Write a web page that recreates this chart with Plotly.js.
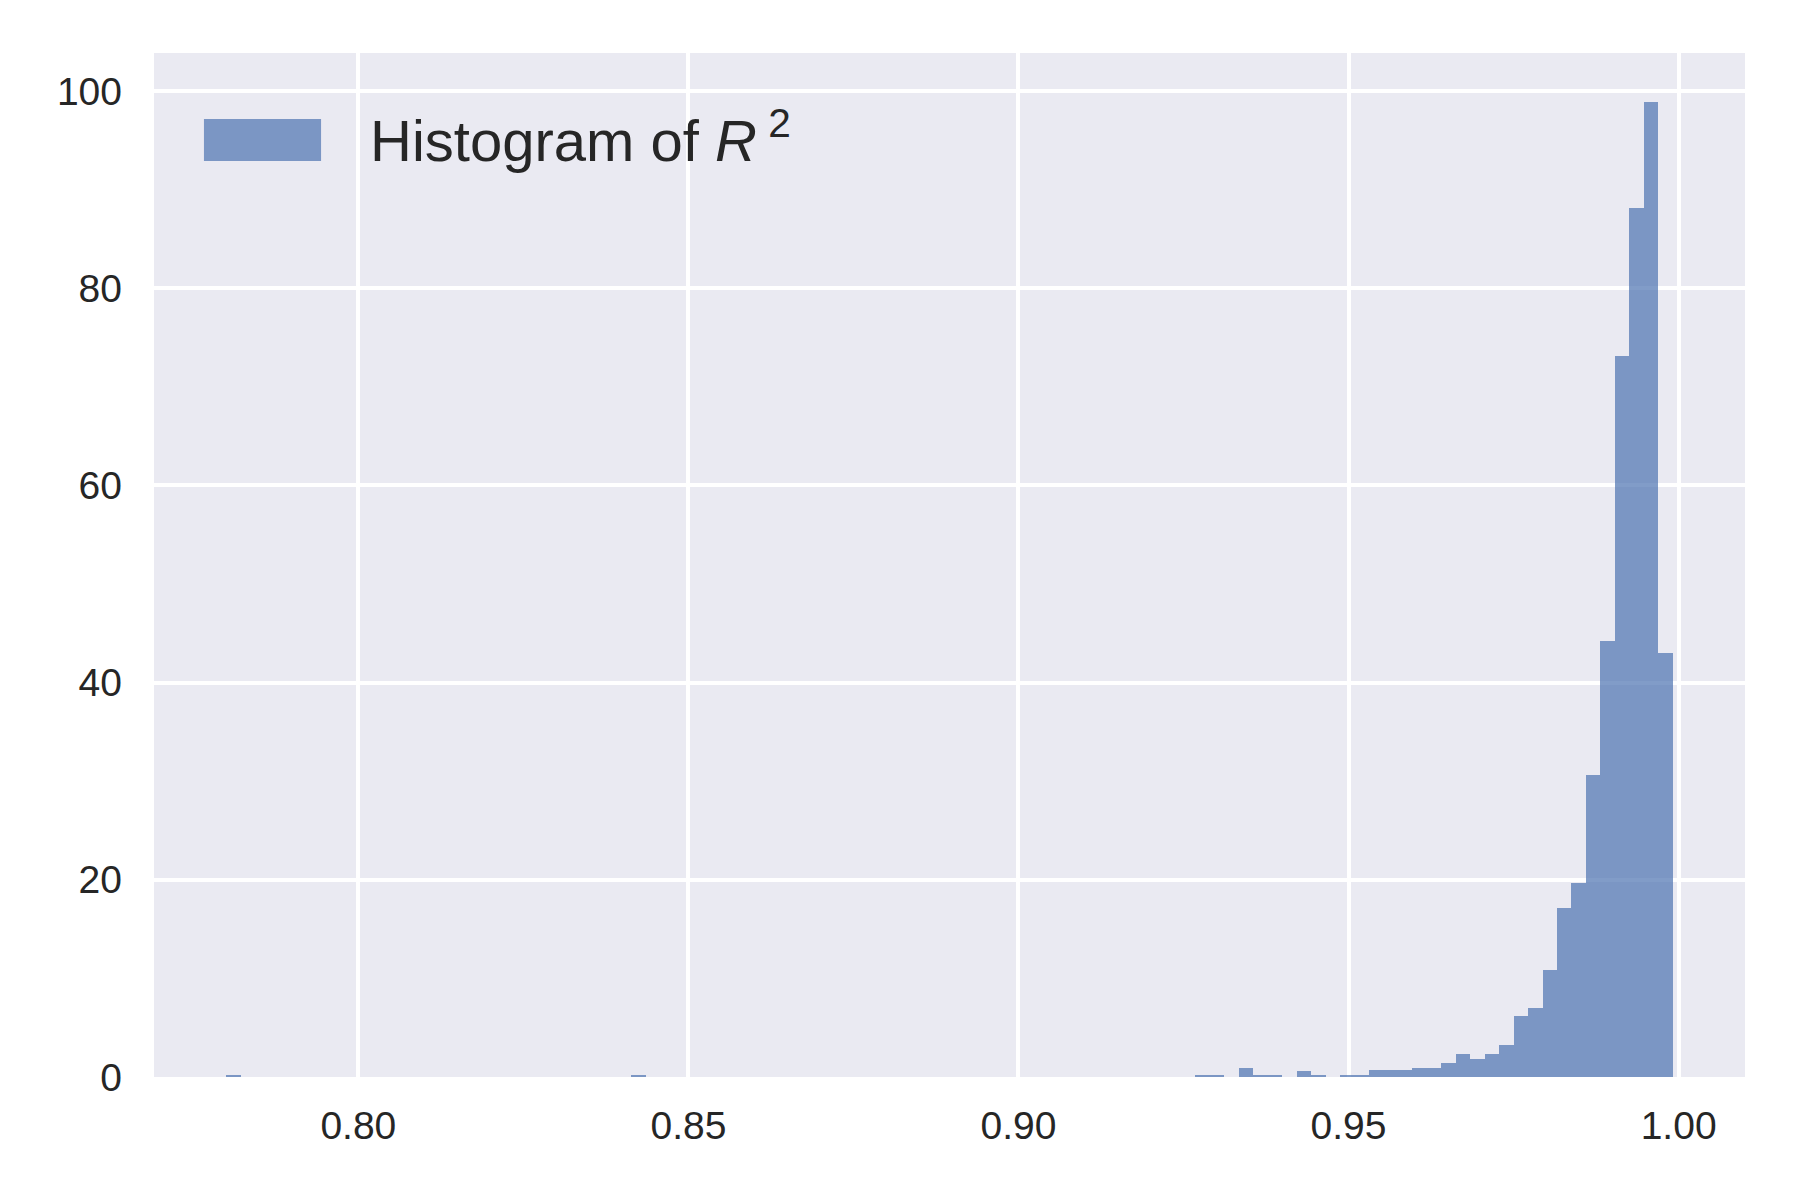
<!DOCTYPE html>
<html>
<head>
<meta charset="utf-8">
<script src="https://cdn.plot.ly/plotly-3.0.1.min.js"></script>
<style>
  html, body { margin: 0; padding: 0; background: #ffffff; }
  #chart { width: 1800px; height: 1200px; }
</style>
</head>
<body>
<div id="chart"></div>
<script>
// Histogram of R^2 (density), 100 equal-width bins
const binStart = 0.7800;
const binWidth = 0.002191;
const density = [
  0.25, 0, 0, 0, 0, 0, 0, 0, 0, 0,
  0, 0, 0, 0, 0, 0, 0, 0, 0, 0,
  0, 0, 0, 0, 0, 0, 0, 0, 0.25, 0,
  0, 0, 0, 0, 0, 0, 0, 0, 0, 0,
  0, 0, 0, 0, 0, 0, 0, 0, 0, 0,
  0, 0, 0, 0, 0, 0, 0, 0, 0, 0,
  0, 0, 0, 0, 0, 0, 0, 0.25, 0.25, 0,
  0.96, 0.25, 0.25, 0, 0.56, 0.25, 0, 0.25, 0.25, 0.76,
  0.76, 0.76, 0.96, 0.96, 1.47, 2.38, 1.87, 2.38, 3.29, 6.22,
  6.97, 10.81, 17.16, 19.69, 30.65, 44.25, 73.1, 88.1, 98.9, 42.97
];
const xTickVals = [0.80, 0.85, 0.90, 0.95, 1.00];
const xTickText = ['0.80', '0.85', '0.90', '0.95', '1.00'];
const yTickVals = [0, 20, 40, 60, 80, 100];
const legendLabel = 'Histogram of <i>R</i><sup>\u2009\u200A2</sup>';

const binCenters = density.map((_, i) => binStart + (i + 0.5) * binWidth);
const binEnd = binStart + density.length * binWidth;
const pad = 0.05 * (binEnd - binStart);
const yMax = Math.max(...density) * 1.05;

const barColor = 'rgba(76,114,176,0.7)';
const textColor = '#262626';
const fontFamily = 'Arial, "Liberation Sans", Helvetica, sans-serif';

const trace = {
  type: 'bar',
  x: binCenters,
  y: density,
  width: density.map(() => binWidth),
  marker: { color: barColor, line: { width: 0 } },
  name: legendLabel,
  showlegend: false,
  hoverinfo: 'x+y'
};

const layout = {
  width: 1800,
  height: 1200,
  paper_bgcolor: '#ffffff',
  plot_bgcolor: '#EAEAF2',
  margin: { l: 154, r: 55, t: 53, b: 123, pad: 0 },
  bargap: 0,
  font: { family: fontFamily, color: textColor, size: 39 },
  xaxis: {
    range: [binStart - pad, binEnd + pad],
    tickvals: xTickVals,
    ticktext: xTickText,
    showgrid: true,
    gridcolor: '#ffffff',
    gridwidth: 4,
    zeroline: false,
    showline: false,
    ticks: '',
    ticklabelstandoff: 22,
    tickfont: { size: 39, color: textColor, family: fontFamily }
  },
  yaxis: {
    range: [0, yMax],
    tickvals: yTickVals,
    showgrid: true,
    gridcolor: '#ffffff',
    gridwidth: 4,
    zeroline: false,
    showline: false,
    ticks: '',
    ticklabelstandoff: 31,
    tickfont: { size: 39, color: textColor, family: fontFamily }
  },
  shapes: [
    {
      type: 'rect', xref: 'paper', yref: 'paper',
      x0: 0.0314, x1: 0.105, y0: 0.8945, y1: 0.9355,
      fillcolor: barColor, line: { width: 0 }, layer: 'above'
    }
  ],
  annotations: [
    {
      xref: 'paper', yref: 'paper',
      x: 0.1345, y: 0.918,
      xanchor: 'left', yanchor: 'middle',
      showarrow: false,
      text: legendLabel,
      font: { size: 58, color: textColor, family: fontFamily }
    }
  ]
};

Plotly.newPlot('chart', [trace], layout, { displayModeBar: false, staticPlot: true });
</script>
</body>
</html>
